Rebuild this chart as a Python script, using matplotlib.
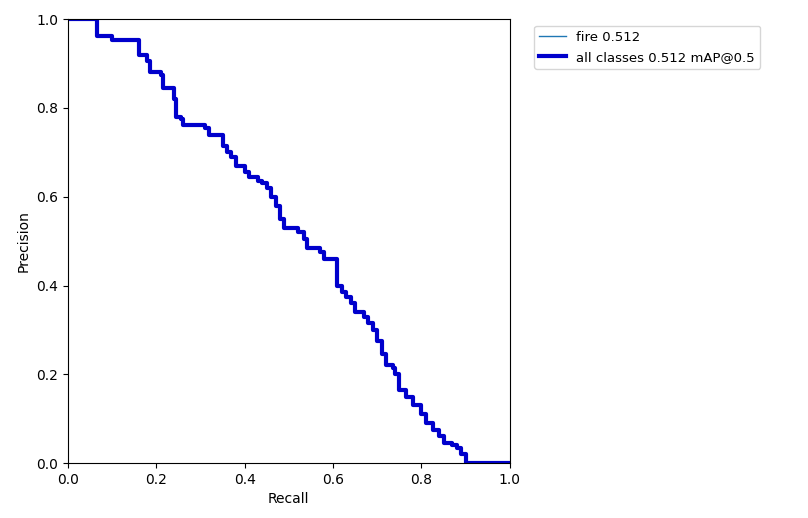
import matplotlib.pyplot as plt

# PR curve (recall, precision)
recall = [0.0, 0.066, 0.066, 0.10, 0.10, 0.16, 0.16, 0.175, 0.18, 0.185, 0.21, 0.215,
          0.235, 0.24, 0.245, 0.255, 0.26, 0.30, 0.31, 0.32, 0.34, 0.35, 0.36, 0.37,
          0.38, 0.39, 0.40, 0.41, 0.43, 0.44, 0.45, 0.46, 0.47, 0.48, 0.49, 0.51, 0.52,
          0.535, 0.54, 0.56, 0.57, 0.58, 0.60, 0.61, 0.62, 0.63, 0.64, 0.65, 0.67, 0.68,
          0.69, 0.70, 0.71, 0.72, 0.735, 0.74, 0.75, 0.765, 0.78, 0.80, 0.81, 0.825,
          0.84, 0.85, 0.87, 0.88, 0.89, 0.90, 1.0]
precision = [1.0, 1.0, 0.962, 0.962, 0.953, 0.953, 0.92, 0.92, 0.905, 0.88, 0.875, 0.845,
             0.845, 0.82, 0.78, 0.775, 0.762, 0.762, 0.755, 0.74, 0.74, 0.715, 0.70, 0.69,
             0.67, 0.67, 0.655, 0.645, 0.635, 0.63, 0.62, 0.60, 0.58, 0.55, 0.53, 0.53, 0.52,
             0.505, 0.485, 0.485, 0.475, 0.46, 0.46, 0.40, 0.385, 0.375, 0.36, 0.34, 0.33,
             0.315, 0.30, 0.275, 0.245, 0.22, 0.215, 0.20, 0.165, 0.15, 0.13, 0.11, 0.09,
             0.075, 0.06, 0.045, 0.04, 0.035, 0.02, 0.0, 0.0]

fig = plt.figure(figsize=(8.08, 5.18), dpi=100)
ax = fig.add_axes([0.084, 0.106, 0.547, 0.857])
ax.step(recall, precision, where="post", linewidth=1, color="#1f77b4", label="fire 0.512")
ax.step(recall, precision, where="post", linewidth=3, color="#0000cc", label="all classes 0.512 mAP@0.5")
ax.set_xlim(0, 1)
ax.set_ylim(0, 1)
ax.set_xlabel("Recall")
ax.set_ylabel("Precision")
ax.legend(bbox_to_anchor=(1.04, 1), loc="upper left", fontsize=9.5)
fig.savefig("out.png", dpi=100)
